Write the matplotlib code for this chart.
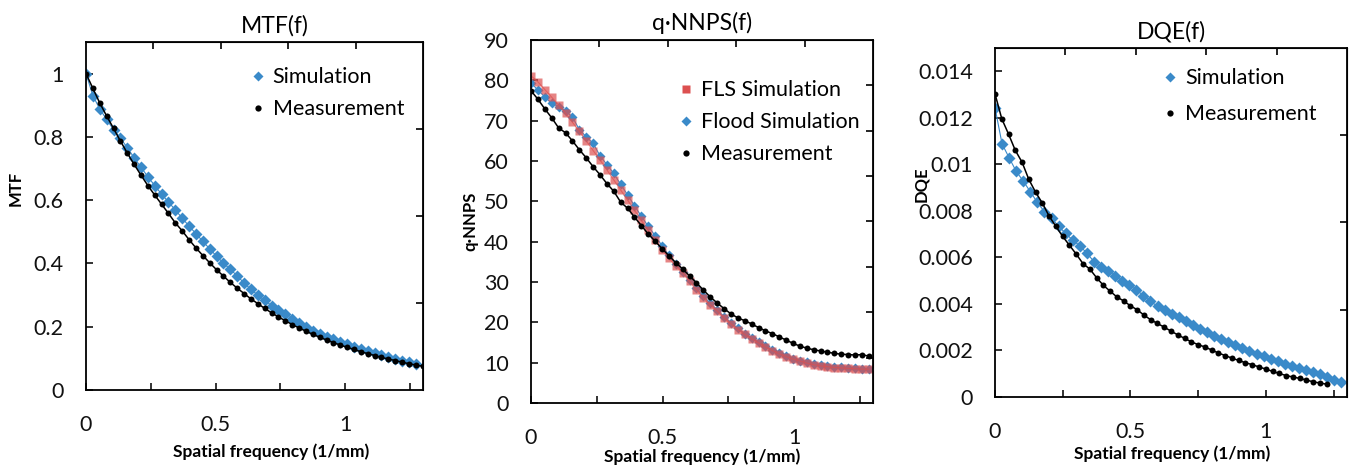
import numpy as np
import matplotlib
matplotlib.use("Agg")
import matplotlib.pyplot as plt
from matplotlib.lines import Line2D
from matplotlib.ticker import FuncFormatter

plt.rcParams['font.family'] = ['Lato', 'DejaVu Sans']

# ---- data ----
# MTF panel
mtf_step = 0.0265
mtf_meas = [1.000, 0.953, 0.907, 0.866, 0.827, 0.787, 0.749, 0.713, 0.679, 0.646,
            0.616, 0.587, 0.558, 0.528, 0.503, 0.475, 0.449, 0.425, 0.402, 0.380,
            0.360, 0.340, 0.322, 0.305, 0.288, 0.273, 0.258, 0.244, 0.231, 0.219,
            0.207, 0.196, 0.186, 0.176, 0.167, 0.158, 0.150, 0.142, 0.135, 0.128,
            0.121, 0.115, 0.109, 0.103, 0.098, 0.093, 0.088, 0.083, 0.079, 0.075]
mtf_sim = [1.000, 0.930, 0.888, 0.855, 0.823, 0.796, 0.766, 0.734, 0.704, 0.674,
           0.646, 0.619, 0.594, 0.569, 0.543, 0.518, 0.494, 0.470, 0.446, 0.423,
           0.401, 0.381, 0.361, 0.338, 0.318, 0.300, 0.283, 0.267, 0.253, 0.240,
           0.224, 0.211, 0.199, 0.188, 0.178, 0.169, 0.160, 0.152, 0.144, 0.137,
           0.130, 0.123, 0.116, 0.110, 0.104, 0.098, 0.092, 0.087, 0.081]

# q*NNPS panel
nnps_step = 0.0262
nnps_fls = [81.1, 79.6, 77.7, 75.8, 73.9, 71.8, 69.6, 67.4, 65.0, 62.6,
            60.3, 57.8, 55.3, 52.8, 50.3, 47.8, 45.3, 42.8, 40.4, 38.0,
            35.9, 34.0, 32.3, 30.2, 28.1, 26.1, 24.3, 22.8, 21.1, 19.6,
            18.2, 17.0, 15.9, 14.9, 13.9, 13.0, 12.2, 11.5, 10.9, 10.4,
            9.9, 9.5, 9.2, 9.0, 8.8, 8.7, 8.6, 8.5, 8.4, 8.4]
nnps_flood = [79.3, 77.6, 75.9, 74.3, 73.5, 72.4, 70.9, 67.8, 66.0, 64.4,
              61.3, 59.1, 56.9, 54.2, 51.6, 48.9, 46.3, 43.8, 41.5, 39.0,
              36.6, 34.4, 32.6, 30.4, 28.4, 26.5, 24.7, 23.1, 21.4, 19.9,
              18.5, 17.2, 16.1, 15.1, 14.1, 13.2, 12.4, 11.7, 11.0, 10.5,
              10.1, 9.7, 9.4, 9.2, 9.0, 8.9, 8.7, 8.6, 8.5, 8.4]
nnps_meas = [77.4, 75.3, 72.9, 70.7, 68.2, 67.0, 65.0, 62.8, 60.8, 58.6,
             56.6, 54.4, 52.5, 49.8, 48.3, 46.1, 44.0, 41.9, 40.1, 38.3,
             36.5, 34.8, 33.2, 31.5, 29.8, 28.0, 26.3, 24.8, 23.4, 22.1,
             21.1, 20.4, 19.6, 18.7, 17.9, 17.2, 16.4, 15.6, 14.8, 14.1,
             13.6, 13.2, 12.9, 12.6, 12.3, 12.1, 12.0, 11.9, 12.0, 11.6]

# DQE panel
dqe_sim_step = 0.0261
dqe_meas_step = 0.025
dqe_sim = [0.01243, 0.01088, 0.01028, 0.00970, 0.00928, 0.00882, 0.00836, 0.00796, 0.00768, 0.00734,
           0.00703, 0.00674, 0.00650, 0.00618, 0.00582, 0.00557, 0.00541, 0.00522, 0.00498, 0.00481,
           0.00460, 0.00436, 0.00411, 0.00390, 0.00374, 0.00357, 0.00342, 0.00326, 0.00310, 0.00294,
           0.00278, 0.00263, 0.00249, 0.00236, 0.00222, 0.00209, 0.00197, 0.00186, 0.00175, 0.00165,
           0.00154, 0.00143, 0.00134, 0.00126, 0.00117, 0.00107, 0.00097, 0.00086, 0.00075, 0.00064]
dqe_meas = [0.01303, 0.01196, 0.01130, 0.01060, 0.01009, 0.00935, 0.00880, 0.00833, 0.00777, 0.00733,
            0.00690, 0.00652, 0.00614, 0.00573, 0.00550, 0.00513, 0.00480, 0.00455, 0.00430, 0.00413,
            0.00392, 0.00375, 0.00352, 0.00332, 0.00316, 0.00300, 0.00283, 0.00267, 0.00252, 0.00237,
            0.00225, 0.00215, 0.00202, 0.00189, 0.00178, 0.00167, 0.00157, 0.00147, 0.00139, 0.00129,
            0.00120, 0.00110, 0.00101, 0.00092, 0.00086, 0.00080, 0.00073, 0.00065, 0.00060, 0.00055]

BLUE = '#3a8ac9'
RED = '#dc5050'
BLACK = '#000000'
LEG = dict(frameon=False, fontsize=15.5, handlelength=0.6, handletextpad=0.4,
           labelspacing=0.55, borderpad=0.2)


def freq(vals, step):
    return np.arange(len(vals)) * step


def style_axis(ax, ylim, yticks, right_div, title, ylabel, xl_pos, yl_pos, title_x=0.5):
    ax.set_xlim(0, 1.3)
    ax.set_ylim(*ylim)
    ax.set_xticks([0, 0.5, 1])
    ax.set_xticks([0.25, 0.75, 1.25], minor=True)
    ax.xaxis.set_major_formatter(FuncFormatter(lambda v, p: '%g' % v))
    ax.set_yticks(yticks)
    ax.yaxis.set_major_formatter(FuncFormatter(lambda v, p: '%g' % round(v, 4)))
    ax.tick_params(which='both', direction='in', length=5, width=1.2,
                   labelsize=15.5, colors='#111111')
    ax.tick_params(axis='x', pad=18)
    ax.tick_params(axis='y', pad=16)
    for s in ax.spines.values():
        s.set_linewidth(1.3)
    # top and right ticks use their own divisions
    top = ax.secondary_xaxis('top')
    top.set_xticks(np.linspace(0, 1.3, 6)[1:-1])
    top.tick_params(direction='in', length=5, width=1.2, labeltop=False)
    right = ax.secondary_yaxis('right')
    right.set_yticks(np.linspace(ylim[0], ylim[1], right_div + 1)[1:-1])
    right.tick_params(direction='in', length=5, width=1.2, labelright=False)
    ax.set_title(title, fontsize=16.5, pad=7, x=title_x)
    ax.set_xlabel('Spatial frequency (1/mm)', fontsize=12.5, fontweight='bold')
    ax.xaxis.set_label_coords(*xl_pos)
    ax.set_ylabel(ylabel, fontsize=12, fontweight='bold')
    ax.yaxis.set_label_coords(*yl_pos)


def handle(marker, color, ms):
    return Line2D([], [], ls='none', marker=marker, color=color, ms=ms, mec='none')


fig = plt.figure(figsize=(13.53, 4.66), dpi=100)

# MTF(f)
ax1 = fig.add_axes([0.0636, 0.1631, 0.2491, 0.7468])
x = freq(mtf_sim, mtf_step)
ax1.plot(x, mtf_sim, '-', color=BLUE, lw=0.8)
ax1.plot(x, mtf_sim, 'D', color=BLUE, ms=6, mec='none')
x = freq(mtf_meas, mtf_step)
ax1.plot(x, mtf_meas, '-', color=BLACK, lw=1.1)
ax1.plot(x, mtf_meas, 'o', color=BLACK, ms=4.3, mec='none')
style_axis(ax1, (0, 1.1), np.arange(0, 1.01, 0.2), 4, 'MTF(f)', 'MTF',
           (0.55, -0.155), (-0.185, 0.58), title_x=0.56)
ax1.legend([handle('D', BLUE, 5.5), handle('o', BLACK, 4.5)], ['Simulation', 'Measurement'],
           loc='upper left', bbox_to_anchor=(0.445, 0.97), **LEG)

# q*NNPS(f)
ax2 = fig.add_axes([0.3925, 0.1352, 0.2528, 0.7790])
x = freq(nnps_flood, nnps_step)
ax2.plot(x, nnps_flood, '-', color=BLUE, lw=0.8)
ax2.plot(x, nnps_flood, 'D', color=BLUE, ms=5.5, mec='none')
x = freq(nnps_fls, nnps_step)
ax2.plot(x, nnps_fls, '-', color=RED, lw=0.8, alpha=0.7)
ax2.plot(x, nnps_fls, 's', color=RED, ms=5.5, mec='none', alpha=0.7)
x = freq(nnps_meas, nnps_step)
ax2.plot(x, nnps_meas, '-', color=BLACK, lw=1.1)
ax2.plot(x, nnps_meas, 'o', color=BLACK, ms=4.3, mec='none')
style_axis(ax2, (0, 90), np.arange(0, 91, 10), 8, 'q·NNPS(f)', 'q·NNPS',
           (0.5, -0.125), (-0.155, 0.5))
ax2.title.set_position((0.5, 0.99))
ax2.legend([handle('s', RED, 5.5), handle('D', BLUE, 5.5), handle('o', BLACK, 4.5)],
           ['FLS Simulation', 'Flood Simulation', 'Measurement'],
           loc='upper left', bbox_to_anchor=(0.39, 0.93), **LEG)

# DQE(f)
ax3 = fig.add_axes([0.7354, 0.1481, 0.2602, 0.7489])
x = freq(dqe_sim, dqe_sim_step)
ax3.plot(x, dqe_sim, '-', color=BLUE, lw=0.8)
ax3.plot(x, dqe_sim, 'D', color=BLUE, ms=6, mec='none')
x = freq(dqe_meas, dqe_meas_step)
ax3.plot(x, dqe_meas, '-', color=BLACK, lw=1.1)
ax3.plot(x, dqe_meas, 'o', color=BLACK, ms=4.3, mec='none')
style_axis(ax3, (0, 0.015), np.arange(0, 0.0141, 0.002), 4, 'DQE(f)', 'DQE',
           (0.503, -0.14), (-0.188, 0.61))
ax3.legend([handle('D', BLUE, 5.5), handle('o', BLACK, 4.5)], ['Simulation', 'Measurement'],
           loc='upper left', bbox_to_anchor=(0.437, 0.985),
           **dict(LEG, labelspacing=0.75))

fig.savefig('out.png', dpi=100)
